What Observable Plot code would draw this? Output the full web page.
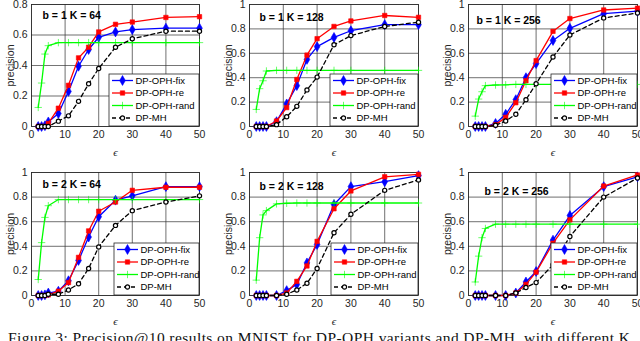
<!DOCTYPE html>
<html>
<head>
<meta charset="utf-8">
<script src="https://cdn.jsdelivr.net/npm/d3@7"></script>
<script src="https://cdn.jsdelivr.net/npm/@observablehq/plot@0.6"></script>
<style>
  html, body { margin: 0; padding: 0; background: #fff; }
  #wrap { position: relative; width: 640px; height: 341px; overflow: hidden; background: #fff; }
</style>
</head>
<body>
<div id="wrap"></div>
<script>
// ---------------- data ----------------
const eps = [2, 3, 4, 5, 8, 11, 14, 17, 20, 25, 30, 40, 50];
const xTicks = [0, 10, 20, 30, 40, 50];
const yTicksTop1 = [0, 0.2, 0.4, 0.6, 0.8];
const yTicksFull = [0, 0.2, 0.4, 0.6, 0.8, 1];
const seriesNames = ["DP-OPH-fix", "DP-OPH-re", "DP-OPH-rand", "DP-MH"];
const panelTitles = ["b = 1 K = 64", "b = 1 K = 128", "b = 1 K = 256", "b = 2 K = 64", "b = 2 K = 128", "b = 2 K = 256"];
const xLabel = "ϵ";
const yLabel = "precision";
const caption = "Figure 3:  Precision@10 results on MNIST for DP-OPH variants and DP-MH, with different K";

const fixB1K64  = [0, 0, 0.005, 0.03, 0.085, 0.23, 0.395, 0.505, 0.585, 0.62, 0.635, 0.645, 0.645];
const reB1K64   = [0, 0, 0, 0.02, 0.12, 0.27, 0.45, 0.52, 0.62, 0.67, 0.685, 0.715, 0.72];
const randB1K64 = [0.125, 0.285, 0.475, 0.53, 0.55, 0.55, 0.55, 0.55, 0.55, 0.55, 0.55, 0.55, 0.55];
const mhB1K64   = [0, 0, 0, 0, 0.035, 0.07, 0.165, 0.28, 0.38, 0.52, 0.575, 0.625, 0.625];

const fixB1K128  = [0, 0, 0, 0, 0.04, 0.185, 0.335, 0.55, 0.655, 0.73, 0.785, 0.835, 0.835];
const reB1K128   = [0, 0, 0, 0, 0.045, 0.155, 0.385, 0.585, 0.72, 0.82, 0.865, 0.91, 0.895];
const randB1K128 = [0.14, 0.31, 0.375, 0.455, 0.46, 0.46, 0.46, 0.46, 0.46, 0.46, 0.46, 0.46, 0.46];
const mhB1K128   = [0, 0, 0, 0, 0.015, 0.08, 0.165, 0.3, 0.405, 0.67, 0.745, 0.82, 0.855];

const fixB1K256  = [0, 0, 0, 0, 0.025, 0.1, 0.22, 0.4, 0.515, 0.705, 0.805, 0.925, 0.945];
const reB1K256   = [0, 0, 0, 0, 0.015, 0.075, 0.195, 0.375, 0.54, 0.78, 0.885, 0.955, 0.97];
const randB1K256 = [0.085, 0.225, 0.285, 0.335, 0.34, 0.342, 0.345, 0.345, 0.345, 0.345, 0.345, 0.345, 0.345];
const mhB1K256   = [0, 0, 0, 0, 0.01, 0.045, 0.1, 0.22, 0.35, 0.57, 0.75, 0.89, 0.93];

const fixB2K64  = [0, 0, 0.005, 0.02, 0.035, 0.12, 0.285, 0.475, 0.64, 0.775, 0.81, 0.885, 0.885];
const reB2K64   = [0, 0, 0, 0.005, 0.035, 0.105, 0.31, 0.525, 0.685, 0.76, 0.855, 0.88, 0.88];
const randB2K64 = [0.13, 0.43, 0.635, 0.73, 0.78, 0.78, 0.78, 0.78, 0.78, 0.78, 0.78, 0.78, 0.78];
const mhB2K64   = [0, 0, 0, 0.01, 0.01, 0.045, 0.095, 0.22, 0.395, 0.57, 0.69, 0.76, 0.81];

const fixB2K128  = [0, 0, 0, 0, 0, 0.04, 0.09, 0.265, 0.415, 0.74, 0.885, 0.925, 0.975];
const reB2K128   = [0, 0, 0, 0, 0, 0.02, 0.115, 0.24, 0.44, 0.705, 0.85, 0.965, 0.985];
const randB2K128 = [0.125, 0.47, 0.655, 0.69, 0.745, 0.75, 0.752, 0.752, 0.752, 0.752, 0.752, 0.752, 0.752];
const mhB2K128   = [0, 0, 0, 0, 0, 0.01, 0.045, 0.1, 0.22, 0.51, 0.66, 0.855, 0.94];

const fixB2K256  = [0, 0, 0, 0, 0, 0, 0.02, 0.11, 0.195, 0.45, 0.65, 0.885, 0.965];
const reB2K256   = [0, 0, 0, 0, 0, 0, 0.02, 0.09, 0.19, 0.425, 0.615, 0.89, 0.98];
const randB2K256 = [0.11, 0.32, 0.47, 0.545, 0.58, 0.58, 0.58, 0.58, 0.58, 0.58, 0.58, 0.58, 0.58];
const mhB2K256   = [0, 0, 0, 0, 0, 0, 0.02, 0.065, 0.105, 0.25, 0.48, 0.8, 0.955];

const panelData = [
  [fixB1K64, reB1K64, randB1K64, mhB1K64],
  [fixB1K128, reB1K128, randB1K128, mhB1K128],
  [fixB1K256, reB1K256, randB1K256, mhB1K256],
  [fixB2K64, reB2K64, randB2K64, mhB2K64],
  [fixB2K128, reB2K128, randB2K128, mhB2K128],
  [fixB2K256, reB2K256, randB2K256, mhB2K256]
];
const panelYTicks = [yTicksTop1, yTicksFull, yTicksFull, yTicksFull, yTicksFull, yTicksFull];

// ---------------- styles & layout ----------------
const seriesStyle = [
  {color: "#0000ff", symbol: "diamond", fill: "#0000ff", r: 3.0, dash: null},
  {color: "#ff0000", symbol: "square", fill: "#ff0000", r: 2.5, dash: null},
  {color: "#00ff00", symbol: "plus", fill: "none", r: 2.5, dash: null},
  {color: "#000000", symbol: "circle", fill: "#ffffff", r: 2.1, dash: "4,3"}
];
const d3Sym = {diamond: d3.symbolDiamond, square: d3.symbolSquare, plus: d3.symbolPlus, circle: d3.symbolCircle};

const colLeft = [31, 249, 468], colRight = [199, 418, 637];
const rowTop = [4, 172], rowBottom = [126, 295];
const titleOffsets = [[11, 11], [10, 13], [8, 16], [11, 12], [10, 14], [16, 19]];
const legendW = [90, 88, 86, 85, 87, 86];
const legendH = 52;
const mL = 31, mR = 3, mT = 4, mB = 36;
const font = "'Liberation Sans', Arial, Helvetica, sans-serif";

const wrap = document.getElementById("wrap");

panelData.forEach((series, p) => {
  const col = p % 3, row = Math.floor(p / 3);
  const plotW = colRight[col] - colLeft[col];
  const plotH = rowBottom[row] - rowTop[row];
  const W = plotW + mL + mR, H = plotH + mT + mB;
  const yt = panelYTicks[p];
  const yDomain = [0, yt[yt.length - 1]];

  const rows = series.flatMap((vals, s) => vals.map((v, i) => ({x: eps[i], y: v, s})));

  const marks = [
    Plot.gridX(xTicks.slice(1, -1), {stroke: "#e3e3e3", strokeOpacity: 1, strokeWidth: 0.8}),
    Plot.gridY(yt.slice(1, -1), {stroke: "#e3e3e3", strokeOpacity: 1, strokeWidth: 0.8}),
    Plot.frame({stroke: "#262626", strokeWidth: 0.8}),
    Plot.tickX(xTicks, {x: d => d, y1: yDomain[0], y2: yDomain[0] + (yDomain[1]) * 0.02, stroke: "#262626", strokeWidth: 0.6}),
    Plot.tickY(yt, {y: d => d, x1: 0, x2: 0.9, stroke: "#262626", strokeWidth: 0.6}),
    Plot.axisX(xTicks, {tickSize: 0, tickPadding: 4, label: null, fill: "#262626"}),
    Plot.axisY(yt, {tickSize: 0, tickPadding: 4, tickFormat: d => String(+d.toFixed(1)),
      label: yLabel, labelAnchor: "center", labelArrow: "none", labelOffset: 25, fill: "#262626"})
  ];
  seriesStyle.forEach((st, s) => {
    const d = rows.filter(r => r.s === s);
    marks.push(Plot.line(d, {x: "x", y: "y", stroke: st.color, strokeWidth: 1.3,
      strokeDasharray: st.dash || undefined}));
    marks.push(Plot.dot(d, {x: "x", y: "y", symbol: st.symbol, r: st.r,
      fill: st.symbol === "plus" ? st.color : st.fill,
      stroke: st.color, strokeWidth: st.symbol === "circle" ? 1.2 : 0.6}));
  });
  marks.push(Plot.text([panelTitles[p]], {frameAnchor: "top-left", dx: titleOffsets[p][0], dy: titleOffsets[p][1],
    textAnchor: "start", lineAnchor: "middle", fontWeight: "bold", fontSize: 10.5, fill: "#000"}));
  marks.push(Plot.text([xLabel], {frameAnchor: "bottom", dy: 26, lineAnchor: "middle",
    fontFamily: "'Liberation Serif', 'DejaVu Serif', serif", fontStyle: "italic", fontSize: 11, fill: "#262626"}));

  const svg = Plot.plot({
    width: W, height: H,
    marginLeft: mL, marginRight: mR, marginTop: mT, marginBottom: mB,
    style: {fontFamily: font, fontSize: "10.5px", color: "#262626", background: "transparent", overflow: "visible"},
    x: {domain: [0, 50]},
    y: {domain: yDomain},
    marks
  });
  svg.style.position = "absolute";
  svg.style.left = (colLeft[col] - mL) + "px";
  svg.style.top = (rowTop[row] - mT) + "px";
  svg.style.maxWidth = "none";

  // legend (box anchored at the bottom-right corner of the plot area)
  const lw = legendW[p];
  const bx = W - mR - lw, by = mT + plotH - legendH;
  const g = d3.select(svg).append("g").attr("transform", `translate(${bx},${by})`);
  g.append("rect").attr("x", 0).attr("y", 0).attr("width", lw).attr("height", legendH)
    .attr("fill", "#ffffff").attr("stroke", "#262626").attr("stroke-width", 0.8);
  seriesNames.forEach((name, s) => {
    const st = seriesStyle[s];
    const cy = 6.5 + s * 12.5;
    g.append("line").attr("x1", 3).attr("x2", 24).attr("y1", cy).attr("y2", cy)
      .attr("stroke", st.color).attr("stroke-width", 1.3)
      .attr("stroke-dasharray", st.dash || null);
    g.append("path").attr("transform", `translate(13.5,${cy})`)
      .attr("d", d3.symbol(d3Sym[st.symbol], Math.PI * st.r * st.r)())
      .attr("fill", st.symbol === "plus" ? st.color : st.fill)
      .attr("stroke", st.color).attr("stroke-width", st.symbol === "circle" ? 1.2 : 0.6);
    g.append("text").attr("x", 26.5).attr("y", cy).attr("dy", "0.35em")
      .attr("text-anchor", "start")
      .attr("font-family", font).attr("font-size", 9.5).attr("fill", "#000").text(name);
  });

  wrap.appendChild(svg);
});

// caption
const cap = d3.select(wrap).append("svg")
  .attr("width", 640).attr("height", 30)
  .style("position", "absolute").style("left", "0px").style("top", "320px");
cap.append("text").attr("x", 8).attr("y", 22.5)
  .attr("font-family", "'Liberation Serif', 'DejaVu Serif', 'Times New Roman', serif")
  .attr("font-size", 15.5).attr("fill", "#111")
  .attr("textLength", 622).attr("lengthAdjust", "spacing")
  .text(caption);
</script>
</body>
</html>
